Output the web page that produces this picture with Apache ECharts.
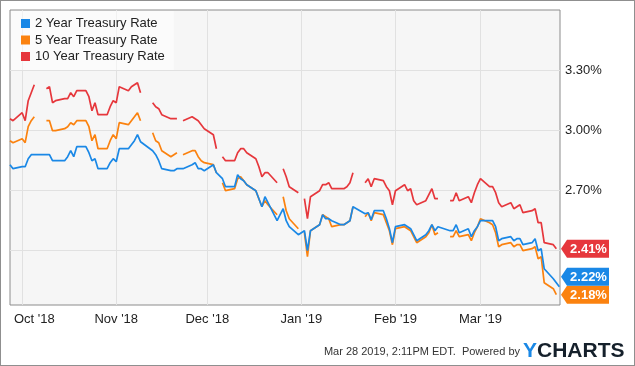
<!DOCTYPE html>
<html><head><meta charset="utf-8">
<script src="https://cdn.jsdelivr.net/npm/echarts@6/dist/echarts.min.js"></script>
<style>
html,body{margin:0;padding:0;background:#fff;}
#c{position:absolute;left:0;top:0;width:635px;height:366px;}
#frame{position:absolute;left:0;top:0;width:635px;height:366px;box-sizing:border-box;border:1px solid #8f8f8f;pointer-events:none;}
</style></head><body>
<div id="c"></div><div id="frame"></div>
<script>
// ---- data ----
const dates = [
 '2018-09-27','2018-09-28',
 '2018-10-01','2018-10-02','2018-10-03','2018-10-04','2018-10-05',
 '2018-10-08','2018-10-09','2018-10-10','2018-10-11','2018-10-12',
 '2018-10-15','2018-10-16','2018-10-17','2018-10-18','2018-10-19',
 '2018-10-22','2018-10-23','2018-10-24','2018-10-25','2018-10-26',
 '2018-10-29','2018-10-30','2018-10-31','2018-11-01','2018-11-02',
 '2018-11-05','2018-11-06','2018-11-07','2018-11-08','2018-11-09',
 '2018-11-12','2018-11-13','2018-11-14','2018-11-15','2018-11-16',
 '2018-11-19','2018-11-20','2018-11-21','2018-11-22','2018-11-23',
 '2018-11-26','2018-11-27','2018-11-28','2018-11-29','2018-11-30',
 '2018-12-03','2018-12-04','2018-12-05','2018-12-06','2018-12-07',
 '2018-12-10','2018-12-11','2018-12-12','2018-12-13','2018-12-14',
 '2018-12-17','2018-12-18','2018-12-19','2018-12-20','2018-12-21',
 '2018-12-24','2018-12-25','2018-12-26','2018-12-27','2018-12-28',
 '2018-12-31','2019-01-01','2019-01-02','2019-01-03','2019-01-04',
 '2019-01-07','2019-01-08','2019-01-09','2019-01-10','2019-01-11',
 '2019-01-14','2019-01-15','2019-01-16','2019-01-17','2019-01-18',
 '2019-01-21','2019-01-22','2019-01-23','2019-01-24','2019-01-25',
 '2019-01-28','2019-01-29','2019-01-30','2019-01-31','2019-02-01',
 '2019-02-04','2019-02-05','2019-02-06','2019-02-07','2019-02-08',
 '2019-02-11','2019-02-12','2019-02-13','2019-02-14','2019-02-15',
 '2019-02-18','2019-02-19','2019-02-20','2019-02-21','2019-02-22',
 '2019-02-25','2019-02-26','2019-02-27','2019-02-28','2019-03-01',
 '2019-03-04','2019-03-05','2019-03-06','2019-03-07','2019-03-08',
 '2019-03-11','2019-03-12','2019-03-13','2019-03-14','2019-03-15',
 '2019-03-18','2019-03-19','2019-03-20','2019-03-21','2019-03-22',
 '2019-03-25','2019-03-26','2019-03-27'
];
const rate2 = [
 2.83, 2.81,
 2.82, 2.82, 2.86, 2.88, 2.88,
 null, 2.88, 2.88, 2.85, 2.85,
 2.85, 2.87, 2.90, 2.87, 2.92,
 2.92, 2.89, 2.85, 2.86, 2.81,
 2.81, 2.84, 2.86, 2.845, 2.91,
 2.91, 2.93, 2.95, 2.98, 2.945,
 null, 2.90, 2.88, 2.85, 2.81,
 2.80, 2.80, 2.81, null, 2.81,
 2.83, 2.84, 2.81, 2.81, 2.80,
 2.83, 2.79, null, 2.76, 2.72,
 2.72, 2.78, 2.76, 2.75, 2.73,
 2.70, 2.66, 2.62, 2.67, 2.64,
 2.55, null, 2.61, 2.55, 2.52,
 2.48, null, 2.50, 2.40, 2.50,
 2.53, 2.58, 2.56, 2.56, 2.55,
 2.53, 2.53, 2.54, 2.55, 2.62,
 null, 2.585, 2.59, 2.555, 2.60,
 2.60, 2.56, 2.51, 2.44, 2.52,
 2.53, 2.52, 2.51, 2.48, 2.45,
 2.48, 2.50, 2.53, 2.50, 2.52,
 null, 2.50, 2.50, 2.53, 2.49,
 2.51, 2.47, 2.50, 2.52, 2.55,
 2.55, 2.55, 2.52, 2.45, 2.46,
 2.47, 2.45, 2.46, 2.46, 2.43,
 2.44, 2.46, 2.40, 2.41, 2.31,
 2.26, 2.24, 2.22
];
const rate5 = [
 2.95, 2.94,
 2.96, 2.94, 3.02, 3.05, 3.07,
 null, 3.05, 3.05, 3.00, 3.00,
 3.01, 3.02, 3.04, 3.03, 3.05,
 3.05, 3.02, 2.95, 2.98, 2.91,
 2.91, 2.95, 2.98, 2.96, 3.04,
 3.03, 3.05, 3.07, 3.09, 3.05,
 null, 2.99, 2.95, 2.94, 2.90,
 2.87, 2.88, 2.89, null, 2.88,
 2.90, 2.90, 2.87, 2.85, 2.84,
 2.83, 2.79, null, 2.74, 2.70,
 2.71, 2.76, 2.77, 2.75, 2.73,
 2.70, 2.66, 2.62, 2.65, 2.63,
 2.58, null, 2.67, 2.60, 2.56,
 2.51, null, 2.49, 2.37, 2.50,
 2.53, 2.58, 2.57, 2.56, 2.52,
 2.53, 2.53, 2.54, 2.55, 2.62,
 null, 2.57, 2.59, 2.55, 2.59,
 2.58, 2.54, 2.50, 2.43, 2.51,
 2.52, 2.51, 2.50, 2.47, 2.44,
 2.47, 2.49, 2.53, 2.48, 2.49,
 null, 2.47, 2.47, 2.50, 2.47,
 2.48, 2.45, 2.49, 2.52, 2.56,
 2.54, 2.53, 2.49, 2.42, 2.43,
 2.44, 2.42, 2.43, 2.43, 2.40,
 2.41, 2.42, 2.36, 2.37, 2.24,
 2.21, 2.18, null
];
const rate10 = [
 3.06, 3.05,
 3.09, 3.05, 3.15, 3.19, 3.23,
 null, 3.21, 3.22, 3.14, 3.15,
 3.16, 3.16, 3.19, 3.17, 3.20,
 3.20, 3.17, 3.10, 3.14, 3.08,
 3.08, 3.12, 3.15, 3.14, 3.22,
 3.20, 3.22, 3.23, 3.24, 3.19,
 null, 3.14, 3.12, 3.11, 3.08,
 3.06, 3.06, 3.06, null, 3.05,
 3.07, 3.06, 3.05, 3.03, 3.01,
 2.98, 2.91, null, 2.87, 2.85,
 2.85, 2.89, 2.91, 2.91, 2.89,
 2.86, 2.82, 2.77, 2.79, 2.79,
 2.74, null, 2.81, 2.77, 2.72,
 2.69, null, 2.66, 2.56, 2.67,
 2.70, 2.73, 2.73, 2.74, 2.71,
 2.71, 2.71, 2.72, 2.74, 2.79,
 null, 2.74, 2.76, 2.72, 2.76,
 2.75, 2.72, 2.70, 2.63, 2.70,
 2.73, 2.70, 2.71, 2.65, 2.63,
 2.65, 2.68, 2.71, 2.66, 2.66,
 null, 2.65, 2.65, 2.69, 2.65,
 2.67, 2.64, 2.69, 2.73, 2.76,
 2.72, 2.72, 2.69, 2.64, 2.62,
 2.64, 2.61, 2.62, 2.63, 2.59,
 2.60, 2.61, 2.54, 2.54, 2.44,
 2.43, 2.41, null
];
const seriesNames = ['2 Year Treasury Rate', '5 Year Treasury Rate', '10 Year Treasury Rate'];
const seriesColors = ['#1a88e6', '#fb820f', '#e6373c'];
const yTicks = [2.4, 2.7, 3.0, 3.3];
const monthGridDates = ['2018-10-01','2018-11-01','2018-12-01','2019-01-01','2019-02-01','2019-03-01'];
const monthLabelDates = ['2018-10-05','2018-11-01','2018-12-01','2019-01-01','2019-02-01','2019-03-01'];
const monthLabels = ["Oct '18", "Nov '18", "Dec '18", "Jan '19", "Feb '19", "Mar '19"];
const footerText = 'Mar 28 2019, 2:11PM EDT.  Powered by';

// ---- build ----
const FONT = '"Liberation Sans", Arial, Helvetica, sans-serif';
function ts(s) { const p = s.split('-').map(Number); return Date.UTC(p[0], p[1] - 1, p[2]); }
const xMin = ts('2018-09-27');
const xMax = ts('2019-03-27') + 5 * 3600e3;
const yMin = 2.1285, yMax = 3.6035;
const gridTs = monthGridDates.map(ts);
const labelTs = monthLabelDates.map(ts);
const allRates = [rate2, rate5, rate10];

const chart = echarts.init(document.getElementById('c'), null, {renderer: 'canvas'});
const order = [2, 1, 0]; // draw 2Y on top
const series = order.map(i => ({
  name: seriesNames[i],
  type: 'line',
  showSymbol: false,
  symbol: 'none',
  connectNulls: i === 0,
  color: seriesColors[i],
  lineStyle: {width: 1.7, color: seriesColors[i]},
  itemStyle: {color: seriesColors[i]},
  emphasis: {disabled: true},
  data: dates.map((d, k) => [ts(d), allRates[i][k]])
}));

chart.setOption({
  animation: false,
  textStyle: {fontFamily: FONT},
  grid: {left: 10, right: 75, top: 10, bottom: 61, show: true, backgroundColor: '#f6f6f6', borderColor: '#8c8c8c', borderWidth: 1},
  legend: {
    data: seriesNames,
    orient: 'vertical',
    left: 11, top: 11,
    padding: [6, 9, 7, 10],
    itemGap: 3.5,
    itemWidth: 9, itemHeight: 9,
    icon: 'rect',
    backgroundColor: 'rgba(255,255,255,0.55)',
    textStyle: {fontSize: 13, color: '#222', fontFamily: FONT},
    selectedMode: false
  },
  xAxis: {
    type: 'value', min: xMin, max: xMax,
    axisLine: {show: false},
    axisTick: {show: false, customValues: gridTs},
    splitLine: {show: true, lineStyle: {color: '#e1e1e1', width: 1}},
    axisLabel: {
      customValues: labelTs,
      formatter: v => { const k = labelTs.indexOf(Number(v)); return k >= 0 ? monthLabels[k] : ''; },
      color: '#222', fontSize: 13, margin: 8, fontFamily: FONT
    }
  },
  yAxis: {
    type: 'value', position: 'right', min: yMin, max: yMax,
    axisLine: {show: false},
    axisTick: {show: false, customValues: yTicks},
    splitLine: {show: true, lineStyle: {color: '#e1e1e1', width: 1}},
    axisLabel: {
      customValues: yTicks,
      formatter: v => Number(v).toFixed(2) + '%',
      color: '#222', fontSize: 13, margin: 5, fontFamily: FONT
    }
  },
  series: series
});

// ---- end-value tags ----
const H = 18;
const tags = allRates.map((arr, i) => {
  let k = arr.length - 1;
  while (k >= 0 && arr[k] == null) k--;
  const p = chart.convertToPixel({xAxisIndex: 0, yAxisIndex: 0}, [ts(dates[k]), arr[k]]);
  return {i: i, v: arr[k], y: p[1]};
});
tags.sort((a, b) => b.y - a.y);
for (let j = 1; j < tags.length; j++) {
  if (tags[j].y > tags[j - 1].y - H) tags[j].y = tags[j - 1].y - H;
}
const gridRight = chart.convertToPixel({xAxisIndex: 0}, xMax);
const x0 = gridRight + 1;
const graphics = [];
tags.forEach(t => {
  const c = t.y;
  graphics.push({
    type: 'polygon', z: 100,
    shape: {points: [[x0, c], [x0 + 6, c - H / 2], [x0 + 48, c - H / 2], [x0 + 48, c + H / 2], [x0 + 6, c + H / 2]]},
    style: {fill: seriesColors[t.i]}
  });
  graphics.push({
    type: 'text', z: 101,
    style: {text: t.v.toFixed(2) + '%', x: x0 + 27.5, y: c + 0.5, align: 'center', verticalAlign: 'middle',
      font: 'bold 13px ' + FONT, fill: '#fff'}
  });
});
graphics.push({
  type: 'text', z: 100,
  style: {text: footerText, x: 520, y: 352, align: 'right', verticalAlign: 'middle', font: '11px ' + FONT, fill: '#333'}
});
graphics.push({
  type: 'text', z: 100,
  style: {
    text: '{a|Y}{b|CHARTS}', x: 523, y: 351, align: 'left', verticalAlign: 'middle',
    rich: {
      a: {fontSize: 21, fontWeight: 'bold', fontFamily: FONT, fill: '#1a88e6', color: '#1a88e6'},
      b: {fontSize: 21, fontWeight: 'bold', fontFamily: FONT, fill: '#15202b', color: '#15202b'}
    }
  }
});
chart.setOption({graphic: graphics});
</script>
</body></html>
